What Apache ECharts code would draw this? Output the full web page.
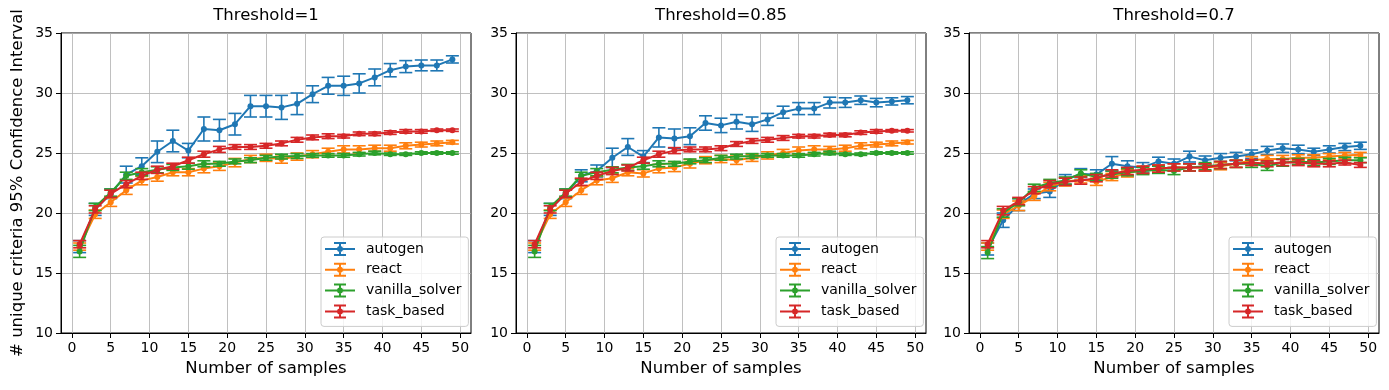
<!DOCTYPE html>
<html>
<head>
<meta charset="utf-8">
<script src="https://cdn.jsdelivr.net/npm/echarts@6/dist/echarts.min.js"></script>
<style>
  html, body { margin: 0; padding: 0; background: #fff; }
  #chart { width: 1389px; height: 390px; }
</style>
</head>
<body>
<div id="chart"></div>
<script>
const seriesNames = ["autogen", "react", "vanilla_solver", "task_based"];
const colors = ["#1f77b4", "#ff7f0e", "#2ca02c", "#d62728"];
const thresholds = ["Threshold=1", "Threshold=0.85", "Threshold=0.7"];
const samples = [1, 3, 5, 7, 9, 11, 13, 15, 17, 19, 21, 23, 25, 27, 29, 31, 33, 35, 37, 39, 41, 43, 45, 47, 49];
const xTicks = [0, 5, 10, 15, 20, 25, 30, 35, 40, 45, 50];

// Threshold=1
const autogen1 = [17.2, 20.3, 21.6, 23.2, 23.9, 25.1, 26.0, 25.2, 27.0, 26.9, 27.4, 28.9, 28.9, 28.8, 29.1, 29.9, 30.6, 30.6, 30.8, 31.3, 31.9, 32.2, 32.3, 32.3, 32.8];
const autogen1Err = [0.5, 0.5, 0.4, 0.7, 0.7, 0.9, 0.9, 0.6, 1.0, 0.9, 0.9, 0.9, 0.9, 1.0, 0.9, 0.7, 0.7, 0.8, 0.8, 0.7, 0.55, 0.5, 0.45, 0.45, 0.3];
const react1 = [17.2, 19.9, 20.9, 21.9, 22.7, 23.0, 23.4, 23.4, 23.7, 23.9, 24.2, 24.5, 24.6, 24.5, 24.7, 24.9, 25.1, 25.3, 25.3, 25.4, 25.4, 25.6, 25.7, 25.8, 25.9];
const react1Err = [0.3, 0.35, 0.35, 0.35, 0.35, 0.35, 0.3, 0.3, 0.35, 0.35, 0.35, 0.3, 0.3, 0.35, 0.3, 0.3, 0.3, 0.3, 0.3, 0.25, 0.25, 0.25, 0.2, 0.2, 0.15];
const vanilla1 = [16.8, 20.5, 21.7, 23.1, 23.4, 23.6, 23.8, 23.9, 24.1, 24.1, 24.3, 24.4, 24.6, 24.7, 24.75, 24.8, 24.8, 24.8, 24.9, 25.0, 24.9, 24.9, 25.0, 25.0, 25.0];
const vanilla1Err = [0.5, 0.3, 0.3, 0.3, 0.3, 0.25, 0.25, 0.25, 0.25, 0.2, 0.2, 0.2, 0.2, 0.2, 0.2, 0.15, 0.15, 0.15, 0.15, 0.15, 0.1, 0.1, 0.1, 0.1, 0.1];
const task1 = [17.4, 20.3, 21.6, 22.4, 23.1, 23.6, 23.9, 24.4, 24.9, 25.3, 25.5, 25.5, 25.6, 25.8, 26.1, 26.3, 26.4, 26.4, 26.6, 26.6, 26.7, 26.8, 26.8, 26.9, 26.9];
const task1Err = [0.3, 0.3, 0.3, 0.3, 0.3, 0.3, 0.25, 0.25, 0.25, 0.25, 0.2, 0.2, 0.2, 0.2, 0.2, 0.2, 0.2, 0.15, 0.15, 0.15, 0.15, 0.15, 0.15, 0.1, 0.1];

// Threshold=0.85
const autogen2 = [17.2, 20.3, 21.6, 23.1, 23.5, 24.6, 25.5, 24.7, 26.3, 26.2, 26.4, 27.5, 27.3, 27.6, 27.4, 27.8, 28.4, 28.7, 28.7, 29.2, 29.2, 29.4, 29.2, 29.3, 29.4];
const autogen2Err = [0.5, 0.5, 0.4, 0.5, 0.5, 0.8, 0.7, 0.5, 0.8, 0.8, 0.7, 0.6, 0.6, 0.6, 0.6, 0.5, 0.5, 0.5, 0.5, 0.45, 0.4, 0.35, 0.35, 0.3, 0.3];
const react2 = [17.2, 19.9, 20.9, 21.9, 22.7, 22.9, 23.4, 23.3, 23.7, 23.8, 24.1, 24.4, 24.5, 24.4, 24.6, 24.8, 25.0, 25.2, 25.3, 25.3, 25.4, 25.6, 25.7, 25.8, 25.9];
const react2Err = [0.3, 0.35, 0.35, 0.35, 0.35, 0.35, 0.3, 0.3, 0.35, 0.35, 0.35, 0.3, 0.3, 0.35, 0.3, 0.3, 0.3, 0.3, 0.3, 0.25, 0.25, 0.25, 0.2, 0.2, 0.15];
const vanilla2 = [16.8, 20.5, 21.7, 23.1, 23.4, 23.6, 23.8, 23.9, 24.1, 24.1, 24.3, 24.4, 24.6, 24.7, 24.75, 24.8, 24.8, 24.8, 24.9, 25.0, 24.9, 24.9, 25.0, 25.0, 25.0];
const vanilla2Err = [0.5, 0.3, 0.3, 0.3, 0.3, 0.25, 0.25, 0.25, 0.25, 0.2, 0.2, 0.2, 0.2, 0.2, 0.2, 0.15, 0.15, 0.15, 0.15, 0.15, 0.1, 0.1, 0.1, 0.1, 0.1];
const task2 = [17.4, 20.3, 21.6, 22.6, 23.1, 23.5, 23.75, 24.4, 24.9, 25.2, 25.3, 25.3, 25.4, 25.75, 26.0, 26.1, 26.25, 26.4, 26.4, 26.5, 26.5, 26.7, 26.8, 26.85, 26.85];
const task2Err = [0.3, 0.3, 0.3, 0.3, 0.3, 0.3, 0.25, 0.25, 0.25, 0.25, 0.2, 0.2, 0.2, 0.2, 0.2, 0.2, 0.2, 0.15, 0.15, 0.15, 0.15, 0.15, 0.15, 0.1, 0.1];

// Threshold=0.7
const autogen3 = [17.0, 19.4, 20.7, 21.6, 21.8, 22.8, 23.25, 23.2, 24.1, 23.9, 23.8, 24.3, 24.1, 24.7, 24.4, 24.6, 24.7, 24.9, 25.2, 25.4, 25.3, 25.1, 25.3, 25.5, 25.6];
const autogen3Err = [0.5, 0.6, 0.5, 0.4, 0.5, 0.4, 0.45, 0.4, 0.6, 0.45, 0.4, 0.35, 0.4, 0.45, 0.35, 0.35, 0.35, 0.35, 0.35, 0.35, 0.35, 0.3, 0.3, 0.3, 0.3];
const react3 = [17.2, 19.9, 20.6, 21.4, 22.2, 22.6, 22.8, 22.6, 23.0, 23.3, 23.6, 23.7, 23.8, 23.8, 23.8, 23.9, 24.1, 24.4, 24.5, 24.5, 24.6, 24.6, 24.7, 24.8, 24.85];
const react3Err = [0.3, 0.35, 0.4, 0.35, 0.35, 0.35, 0.3, 0.3, 0.3, 0.3, 0.3, 0.3, 0.3, 0.3, 0.3, 0.3, 0.3, 0.3, 0.3, 0.3, 0.25, 0.25, 0.25, 0.25, 0.2];
const vanilla3 = [16.7, 20.0, 20.9, 22.1, 22.5, 22.7, 23.3, 23.0, 23.2, 23.4, 23.5, 23.6, 23.5, 23.8, 23.9, 24.0, 24.1, 24.1, 23.9, 24.2, 24.3, 24.2, 24.3, 24.4, 24.4];
const vanilla3Err = [0.5, 0.35, 0.3, 0.3, 0.3, 0.3, 0.3, 0.3, 0.3, 0.3, 0.3, 0.3, 0.3, 0.3, 0.3, 0.3, 0.3, 0.3, 0.35, 0.3, 0.25, 0.25, 0.25, 0.25, 0.2];
const task3 = [17.4, 20.2, 21.0, 21.9, 22.4, 22.6, 22.7, 22.9, 23.3, 23.5, 23.6, 23.7, 23.8, 23.8, 23.8, 24.0, 24.1, 24.2, 24.1, 24.2, 24.2, 24.1, 24.1, 24.2, 24.0];
const task3Err = [0.3, 0.35, 0.3, 0.3, 0.3, 0.3, 0.3, 0.3, 0.3, 0.3, 0.3, 0.3, 0.3, 0.3, 0.3, 0.3, 0.3, 0.25, 0.25, 0.25, 0.25, 0.25, 0.25, 0.2, 0.2];

const panels = [
    [[autogen1, autogen1Err], [react1, react1Err], [vanilla1, vanilla1Err], [task1, task1Err]],
    [[autogen2, autogen2Err], [react2, react2Err], [vanilla2, vanilla2Err], [task2, task2Err]],
    [[autogen3, autogen3Err], [react3, react3Err], [vanilla3, vanilla3Err], [task3, task3Err]],
];

const FONT = "DejaVu Sans";
const gridLefts = [61, 516, 969];
const gridWidth = 410;
const legendLefts = [321, 776, 1229];
// errorbar legend icon: line + vertical bar with caps + dot (all clockwise so nonzero fill stays solid)
const errIcon = "path://M0 6H30V8H0Z M14 0.5H16V13.5H14Z M9 0H21V2H9Z M9 12H21V14H9Z M12 7A3 3 0 1 1 18 7A3 3 0 1 1 12 7Z";

const myChart = echarts.init(document.getElementById("chart"), null, { renderer: "canvas" });

const grid = [], xAxis = [], yAxis = [], title = [], legend = [], series = [];

panels.forEach((panel, p) => {
    grid.push({
        left: gridLefts[p], top: 33, width: gridWidth, height: 300,
        show: true, borderColor: "#000", borderWidth: 1, backgroundColor: "transparent",
    });
    title.push({
        text: thresholds[p],
        left: gridLefts[p] + gridWidth / 2, top: 7, textAlign: "center", padding: 0,
        textStyle: { fontFamily: FONT, fontSize: 16.5, fontWeight: "normal", color: "#000" },
    });
    xAxis.push({
        type: "value", gridIndex: p, min: -1.4, max: 51.4,
        name: "Number of samples", nameLocation: "middle", nameGap: 27,
        nameTextStyle: { fontFamily: FONT, fontSize: 16.5, color: "#000" },
        axisLine: { onZero: false, lineStyle: { color: "#000", width: 1 } },
        axisTick: { customValues: xTicks, length: 5, lineStyle: { color: "#000" } },
        axisLabel: { customValues: xTicks, margin: 8, fontFamily: FONT, fontSize: 14, color: "#000" },
        splitLine: { show: true, lineStyle: { color: "#b0b0b0", width: 0.8 } },
    });
    yAxis.push({
        type: "value", gridIndex: p, min: 10, max: 35, interval: 5,
        name: p === 0 ? "# unique criteria 95% Confidence Interval" : "",
        nameLocation: "middle", nameGap: 35,
        nameTextStyle: { fontFamily: FONT, fontSize: 16.5, color: "#000" },
        axisLine: { show: true, onZero: false, lineStyle: { color: "#000", width: 1 } },
        axisTick: { show: true, length: 5, lineStyle: { color: "#000" } },
        axisLabel: { margin: 8, fontFamily: FONT, fontSize: 14, color: "#000" },
        splitLine: { show: true, lineStyle: { color: "#b0b0b0", width: 0.8 } },
    });
    legend.push({
        orient: "vertical", left: legendLefts[p], top: 237,
        itemWidth: 30, itemHeight: 14, itemGap: 6.8,
        padding: [5, 7, 8, 4],
        backgroundColor: "rgba(255,255,255,0.8)", borderColor: "#cccccc", borderWidth: 1, borderRadius: 3,
        textStyle: { fontFamily: FONT, fontSize: 14, color: "#000", padding: [0, 0, 0, 6] },
        data: seriesNames.map((n, k) => ({ name: n, icon: errIcon, itemStyle: { color: colors[k], borderWidth: 0 } })),
    });

    panel.forEach(([means, errs], k) => {
        const color = colors[k];
        // error bars carry the legend name
        series.push({
            type: "custom", name: seriesNames[k], xAxisIndex: p, yAxisIndex: p, z: 2 + k * 2,
            itemStyle: { color: color },
            data: samples.map((x, i) => [x, means[i] - errs[i], means[i] + errs[i]]),
            encode: { x: 0, y: [1, 2] },
            renderItem: (params, api) => {
                const top = api.coord([api.value(0), api.value(2)]);
                const bot = api.coord([api.value(0), api.value(1)]);
                const cap = 6.5;
                const style = { stroke: color, lineWidth: 1.6 };
                return {
                    type: "group",
                    children: [
                        { type: "line", shape: { x1: top[0], y1: top[1], x2: bot[0], y2: bot[1] }, style },
                        { type: "line", shape: { x1: top[0] - cap, y1: top[1], x2: top[0] + cap, y2: top[1] }, style },
                        { type: "line", shape: { x1: bot[0] - cap, y1: bot[1], x2: bot[0] + cap, y2: bot[1] }, style },
                    ],
                };
            },
        });
        series.push({
            type: "line", name: seriesNames[k] + " mean", xAxisIndex: p, yAxisIndex: p, z: 3 + k * 2,
            data: samples.map((x, i) => [x, means[i]]),
            symbol: "circle", symbolSize: 6, showSymbol: true,
            itemStyle: { color: color },
            lineStyle: { color: color, width: 2 },
        });
    });
});

myChart.setOption({
    animation: false,
    backgroundColor: "#fff",
    title, grid, xAxis, yAxis, legend, series,
});
</script>
</body>
</html>
